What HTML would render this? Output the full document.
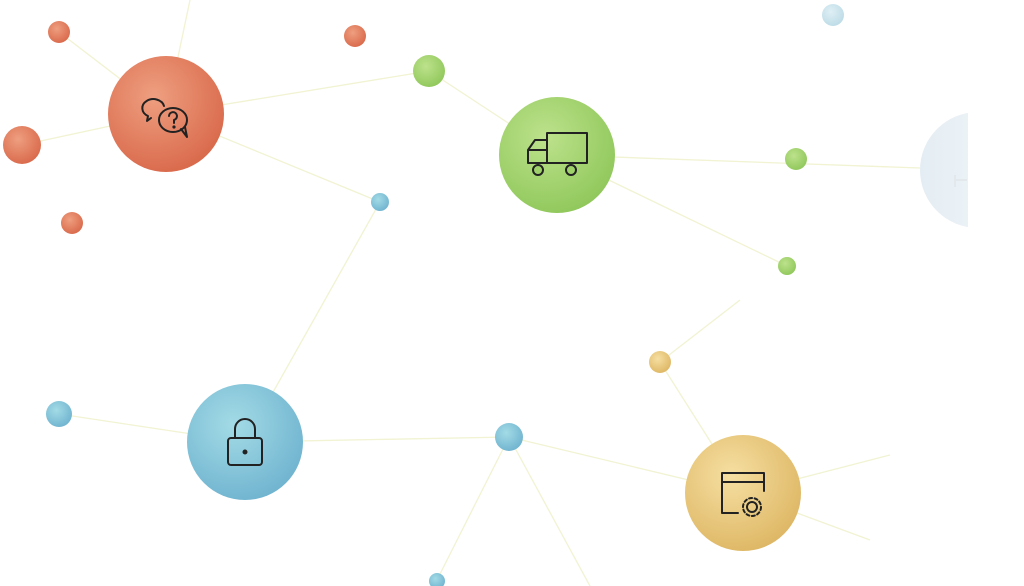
<!DOCTYPE html>
<html><head><style>body{margin:0;background:#fff}svg{display:block}</style></head><body>
<svg width="1024" height="586" viewBox="0 0 1024 586" xmlns="http://www.w3.org/2000/svg">
<defs>
<radialGradient id="o" cx="0.4" cy="0.35" r="0.7"><stop offset="0" stop-color="#ee9f80"/><stop offset="1" stop-color="#d9684a"/></radialGradient>
<radialGradient id="g" cx="0.4" cy="0.35" r="0.7"><stop offset="0" stop-color="#bde28c"/><stop offset="1" stop-color="#8fc75a"/></radialGradient>
<radialGradient id="b" cx="0.4" cy="0.35" r="0.7"><stop offset="0" stop-color="#a3dbe6"/><stop offset="1" stop-color="#6fb3cf"/></radialGradient>
<radialGradient id="y" cx="0.4" cy="0.35" r="0.7"><stop offset="0" stop-color="#f6dfa2"/><stop offset="1" stop-color="#ddb663"/></radialGradient>
<radialGradient id="lb" cx="0.4" cy="0.35" r="0.7"><stop offset="0" stop-color="#dfeff5"/><stop offset="1" stop-color="#bcdbe6"/></radialGradient>
<linearGradient id="f" x1="0" x2="1"><stop offset="0" stop-color="#e4edf3"/><stop offset="1" stop-color="#f6f9fb"/></linearGradient>
</defs>
<g stroke="#f1f3d2" stroke-width="1.3" fill="none">
<line x1="166" y1="114" x2="429" y2="71"/><line x1="166" y1="114" x2="380" y2="202"/>
<line x1="380" y1="202" x2="245" y2="442"/><line x1="429" y1="71" x2="557" y2="155"/>
<line x1="557" y1="155" x2="920" y2="168"/><line x1="557" y1="155" x2="787" y2="266"/>
<line x1="245" y1="442" x2="59" y2="414"/><line x1="245" y1="442" x2="509" y2="437"/>
<line x1="509" y1="437" x2="743" y2="493"/><line x1="509" y1="437" x2="437" y2="580"/>
<line x1="509" y1="437" x2="590" y2="586"/><line x1="660" y1="362" x2="743" y2="493"/>
<line x1="660" y1="362" x2="740" y2="300"/><line x1="743" y1="493" x2="890" y2="455"/>
<line x1="166" y1="114" x2="59" y2="32"/><line x1="166" y1="114" x2="22" y2="145"/>
<line x1="166" y1="114" x2="190" y2="0"/><line x1="743" y1="493" x2="870" y2="540"/>
</g>
<circle cx="978" cy="170" r="58" fill="url(#f)"/>
<path d="M955 175 v12 M955 180 h12" stroke="#e3e8ec" stroke-width="2"/>
<rect x="968" y="0" width="56" height="586" fill="#fff"/>
<circle cx="166" cy="114" r="58" fill="url(#o)"/>
<circle cx="557" cy="155" r="58" fill="url(#g)"/>
<circle cx="245" cy="442" r="58" fill="url(#b)"/>
<circle cx="743" cy="493" r="58" fill="url(#y)"/>
<circle cx="59" cy="32" r="11" fill="url(#o)"/><circle cx="355" cy="36" r="11" fill="url(#o)"/>
<circle cx="22" cy="145" r="19" fill="url(#o)"/><circle cx="72" cy="223" r="11" fill="url(#o)"/>
<circle cx="429" cy="71" r="16" fill="url(#g)"/><circle cx="796" cy="159" r="11" fill="url(#g)"/>
<circle cx="787" cy="266" r="9" fill="url(#g)"/>
<circle cx="380" cy="202" r="9" fill="url(#b)"/><circle cx="59" cy="414" r="13" fill="url(#b)"/>
<circle cx="509" cy="437" r="14" fill="url(#b)"/><circle cx="437" cy="581" r="8" fill="url(#b)"/>
<circle cx="833" cy="15" r="11" fill="url(#lb)"/>
<circle cx="660" cy="362" r="11" fill="url(#y)"/>
<g fill="none" stroke="#222" stroke-width="2" stroke-linejoin="round" stroke-linecap="round">
<path d="M164 106 a11 9 0 1 0 -16 10 l-1 5 l4 -3"/>
<ellipse cx="173" cy="120" rx="14" ry="12"/><path d="M181 129 l6 8 l-2 -10"/>
<path d="M169 116 a4 4 0 1 1 5 4 v3"/><circle cx="174" cy="127" r="0.6" fill="#222"/>
<rect x="547" y="133" width="40" height="30"/><path d="M547 140 h-12 l-7 10 v13 h19"/>
<path d="M529 150 h18"/><circle cx="538" cy="170" r="5" fill="#9fd16a"/><circle cx="571" cy="170" r="5" fill="#9fd16a"/>
<rect x="228" y="438" width="34" height="27" rx="3"/><path d="M235 438 v-9 a10 10 0 0 1 20 0 v9"/>
<circle cx="245" cy="452" r="1.5" fill="#222"/>
<path d="M738 513 h-16 v-40 h42 v18"/><path d="M722 482 h42"/>
<circle cx="752" cy="507" r="5"/><circle cx="752" cy="507" r="9" stroke-dasharray="3 2.6"/>
</g>
</svg>
</body></html>
